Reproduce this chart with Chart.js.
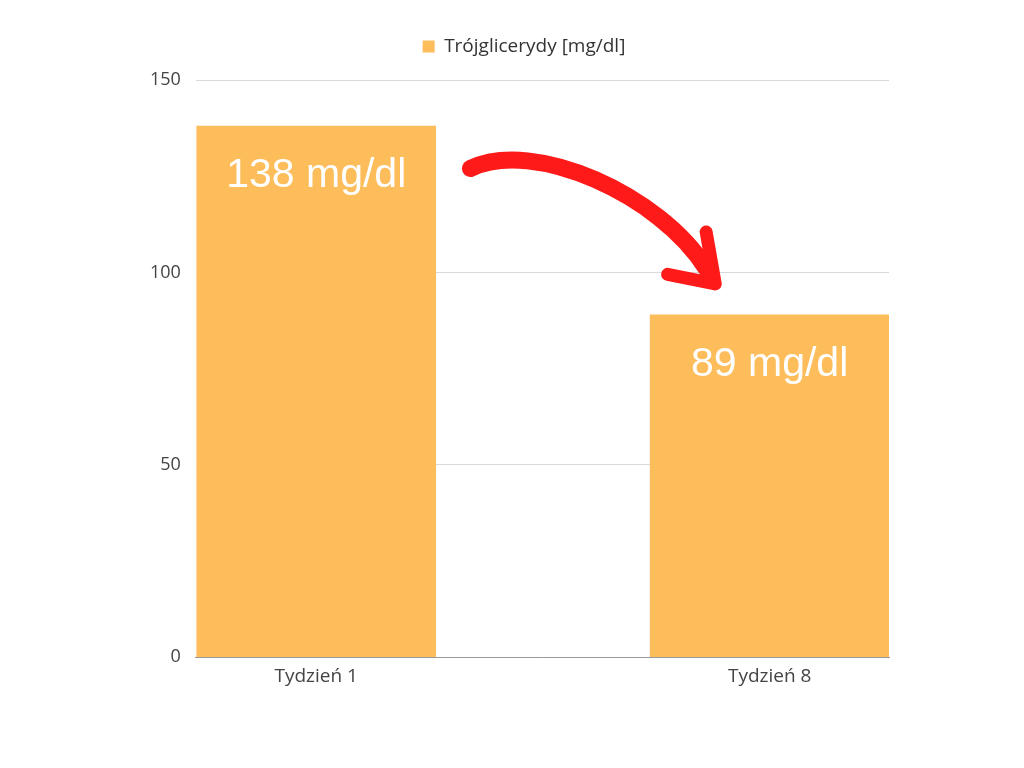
<!DOCTYPE html>
<html>
<head>
<meta charset="utf-8">
<script src="https://cdn.jsdelivr.net/npm/chart.js@4"></script>
<style>
  html, body { margin: 0; padding: 0; background: #fff; }
  #wrap { width: 1024px; height: 768px; }
</style>
</head>
<body>
<div id="wrap"><canvas id="chart" width="1024" height="768"></canvas></div>
<script>
const categories = ['Tydzień 1', 'Tydzień 8'];
const values = [138, 89];
const valueLabels = ['138 mg/dl', '89 mg/dl'];
const seriesName = 'Trójglicerydy [mg/dl]';
const yTicks = [0, 50, 100, 150];

const barColor = '#FDBD5B';

// napisy w słupkach
const labelPlugin = {
  id: 'valueLabels',
  afterDatasetsDraw(chart) {
    const c = chart.ctx;
    const meta = chart.getDatasetMeta(0);
    c.save();
    c.fillStyle = '#fff';
    c.font = '41px "Liberation Sans", Arial, sans-serif';
    c.textAlign = 'center';
    c.textBaseline = 'middle';
    meta.data.forEach((bar, i) => {
      c.fillText(valueLabels[i], bar.x, bar.y + 50);
    });
    c.restore();
  }
};

// legenda lekko w prawo i wyżej
const legendShift = {
  id: 'legendShift',
  afterLayout(chart) {
    chart.legend.left += 24;
    chart.legend.top -= 14;
  }
};

// czerwona strzałka
const arrowPlugin = {
  id: 'arrow',
  afterDraw(chart) {
    const xs = chart.scales.x, ys = chart.scales.y;
    const p = (x, y) => [xs.getPixelForValue(x), ys.getPixelForValue(y)];
    const [sx, sy] = p(0.34, 127);
    const [c1x, c1y] = p(0.48, 135);
    const [c2x, c2y] = p(0.76, 120);
    const [ex, ey] = p(0.86, 101);
    const [tx, ty] = p(0.88, 97);
    const [b1x, b1y] = p(0.775, 99.5);
    const [b2x, b2y] = p(0.86, 110.5);
    const c = chart.ctx;
    c.save();
    c.strokeStyle = '#FF1A1A';
    c.lineCap = 'round';
    c.lineJoin = 'round';
    c.lineWidth = 17;
    c.beginPath();
    c.moveTo(sx, sy);
    c.bezierCurveTo(c1x, c1y, c2x, c2y, ex, ey);
    c.stroke();
    c.lineWidth = 13;
    c.beginPath();
    c.moveTo(b1x, b1y);
    c.lineTo(tx, ty);
    c.lineTo(b2x, b2y);
    c.stroke();
    c.restore();
  }
};

new Chart(document.getElementById('chart'), {
  type: 'bar',
  data: {
    datasets: [{
      label: seriesName,
      data: values.map((v, i) => ({ x: i, y: v })),
      backgroundColor: barColor,
      borderWidth: 0,
      barThickness: 239
    }]
  },
  options: {
    responsive: false,
    animation: false,
    layout: { padding: { left: 135, right: 135, top: 9, bottom: 72 } },
    plugins: {
      legend: {
        labels: {
          boxWidth: 12,
          boxHeight: 12,
          color: '#333',
          font: { family: '"Open Sans"', size: 19 },
          padding: 42
        }
      },
      tooltip: { enabled: false }
    },
    scales: {
      x: {
        type: 'linear',
        offset: false,
        min: -0.2654,
        max: 1.2632,
        afterBuildTicks(axis) {
          axis.ticks = categories.map((_, i) => ({ value: i }));
        },
        ticks: {
          callback: (v) => categories[v],
          color: '#444',
          font: { family: '"Open Sans"', size: 19 },
          padding: 8
        },
        grid: { display: false, drawTicks: false },
        border: { display: true, color: '#999', width: 1 }
      },
      y: {
        min: 0,
        max: 150,
        afterBuildTicks(axis) {
          axis.ticks = yTicks.map(v => ({ value: v }));
        },
        ticks: {
          color: '#444',
          font: { family: '"Open Sans"', size: 18 },
          padding: 15
        },
        grid: { color: '#d9d9d9', drawTicks: false },
        border: { display: false }
      }
    }
  },
  plugins: [labelPlugin, legendShift, arrowPlugin]
});
</script>
</body>
</html>
